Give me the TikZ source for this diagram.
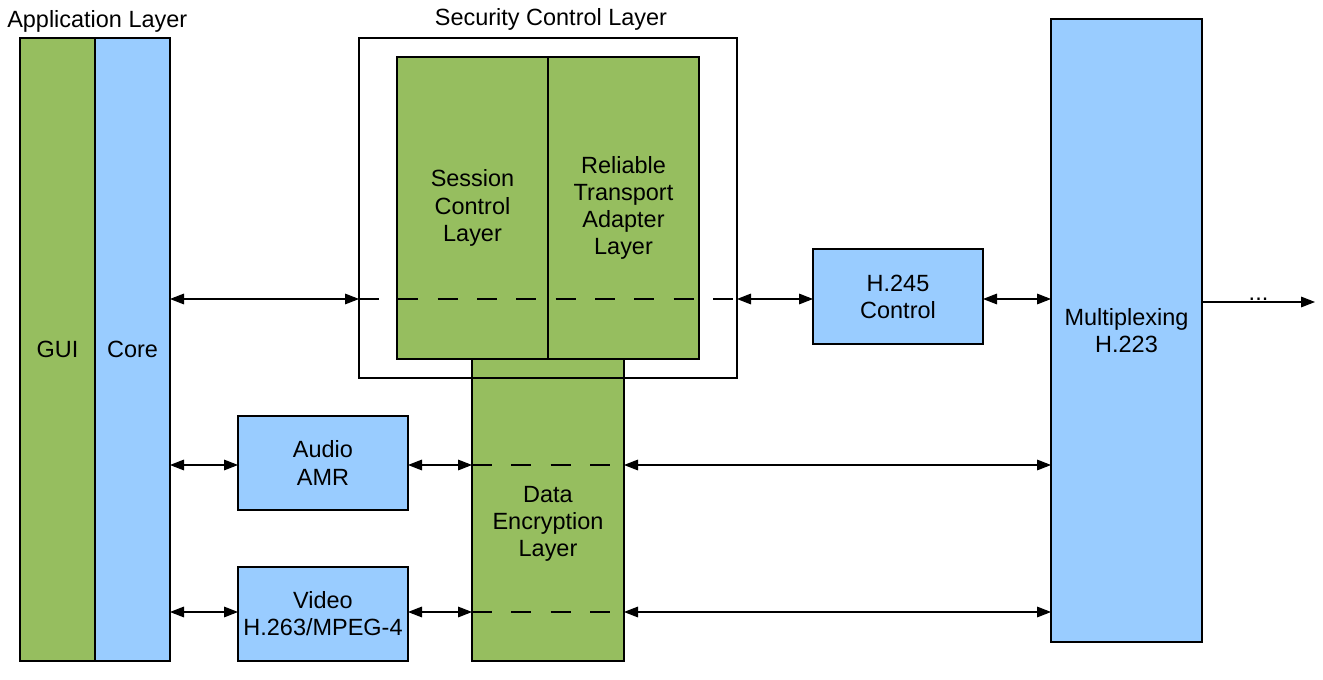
\documentclass[tikz,border=0pt]{standalone}
\usepackage{fontspec}
\setmainfont{Liberation Sans}
\usetikzlibrary{arrows.meta}
\definecolor{grn}{RGB}{150,190,95}
\definecolor{blu}{RGB}{153,204,255}
\begin{document}
\begin{tikzpicture}[x=0.75pt,y=-0.75pt,
  txt/.style={font=\fontsize{17.6}{20.3}\selectfont},
  sz/.style 2 args={minimum width=#1*0.75pt, minimum height=#2*0.75pt},
  blk/.style={draw=black, line width=0.8pt, inner sep=0pt, outer sep=0pt, align=center, txt},
  gbox/.style={blk, fill=grn},
  bbox/.style={blk, fill=blu},
  conn/.style={line width=0.8pt, {Triangle[length=10.5pt,width=8pt]}-{Triangle[length=10.5pt,width=8pt]}},
  oneway/.style={line width=0.8pt, -{Triangle[length=10.5pt,width=8pt]}},
  dline/.style={line width=0.8pt, dash pattern=on 15pt off 14.5pt},
  lbl/.style={txt, inner sep=0pt, align=center}
]
\useasboundingbox (0,0) rectangle (1323,680);
\fill[white] (0,0) rectangle (1323,680);

% titles
\node[lbl, anchor=base west] (applbl) at (7,28) {Application Layer};
\node[lbl, anchor=base] (seclbl) at (551,26) {Security Control Layer};

% application layer
\node[gbox, sz={75}{623}] (gui) at (57.5,349.5) {GUI};
\node[bbox, sz={75}{623}] (core) at (132.5,349.5) {Core};

% security control layer
\node[gbox, sz={151}{302}] (scl) at (472.5,208) {Session\\Control\\Layer};
\node[gbox, sz={151}{302}] (rta) at (623.5,208) {Reliable\\Transport\\Adapter\\Layer};
\node[gbox, sz={152}{302}] (del) at (548,510) {};
\node[lbl] (deltext) at (548,524) {Data\\Encryption\\Layer};
\node[draw=black, line width=0.8pt, inner sep=0pt, outer sep=0pt, sz={378}{340}] (sec) at (548,208) {};

% codecs
\node[bbox, sz={170}{94}] (audio) at (323,463) {Audio\\AMR};
\node[bbox, sz={170}{94}] (video) at (323,614) {Video\\H.263/MPEG-4};

% control and multiplexing
\node[bbox, sz={170}{95}] (h245) at (898,296.5) {H.245\\Control};
\node[bbox, sz={151}{623}] (mux) at (1126.5,330.5) {Multiplexing\\H.223};

% rows
\coordinate (r1) at (0,299);
\coordinate (r2) at (0,465);
\coordinate (r3) at (0,612);
\coordinate (r0) at (0,302);
\coordinate (outend) at (1315,302);

\draw[conn] (core.east |- r1) -- (sec.west |- r1);
\draw[dline] (sec.west |- r1) -- (sec.east |- r1);
\draw[conn] (sec.east |- r1) -- (h245.west |- r1);
\draw[conn] (h245.east |- r1) -- (mux.west |- r1);

\draw[conn] (core.east |- r2) -- (audio.west |- r2);
\draw[conn] (audio.east |- r2) -- (del.west |- r2);
\draw[dline] (del.west |- r2) -- (del.east |- r2);
\draw[conn] (del.east |- r2) -- (mux.west |- r2);

\draw[conn] (core.east |- r3) -- (video.west |- r3);
\draw[conn] (video.east |- r3) -- (del.west |- r3);
\draw[dline] (del.west |- r3) -- (del.east |- r3);
\draw[conn] (del.east |- r3) -- (mux.west |- r3);

\draw[oneway] (mux.east |- r0) -- node[midway, above=1pt, lbl] (dots) {...} (outend);
\end{tikzpicture}
\end{document}
